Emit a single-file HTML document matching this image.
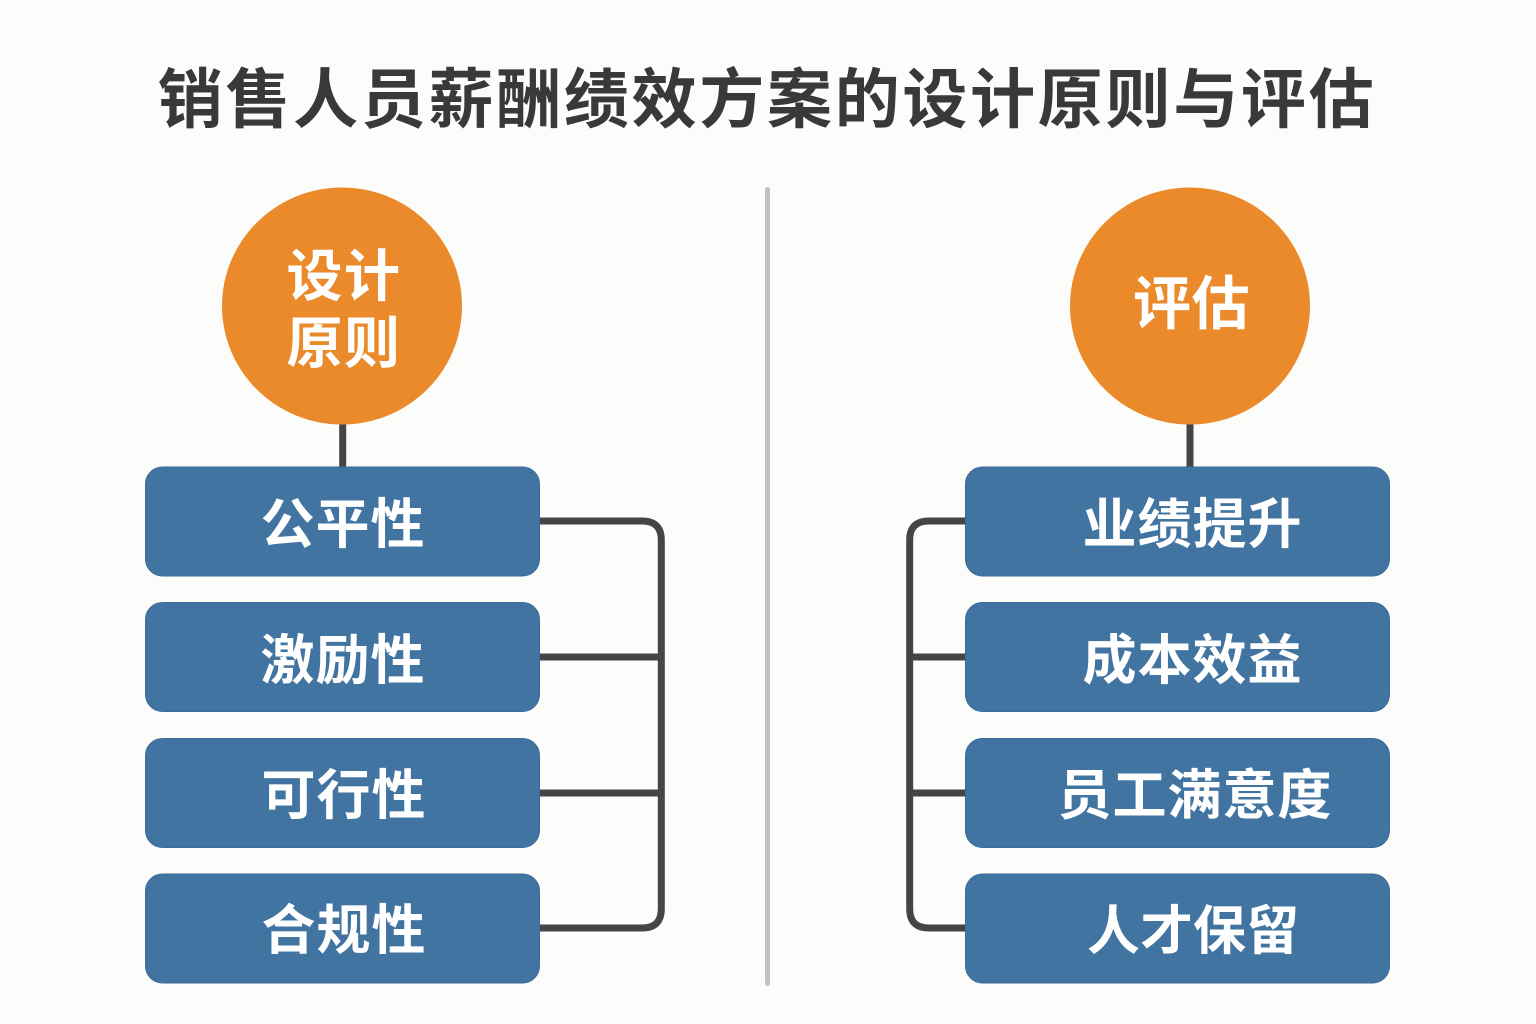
<!DOCTYPE html>
<html lang="zh">
<head>
<meta charset="utf-8">
<style>
html,body{margin:0;padding:0;background:#fcfcfa;}
svg{display:block;}
text{font-family:"Liberation Sans","Noto Sans CJK SC",sans-serif;font-weight:700;text-anchor:middle;}
.b{fill:#4274a1;stroke:#3b6c9b;stroke-width:1;}
.t{fill:#fff;font-size:54px;letter-spacing:1px;}
.l{fill:none;stroke:#434547;stroke-width:7;}
</style>
</head>
<body>
<svg width="1536" height="1024" viewBox="0 0 1536 1024" xmlns="http://www.w3.org/2000/svg">
<rect width="1536" height="1024" fill="#fcfcfa"/>
<text x="767" y="122" font-size="65" letter-spacing="2.7" fill="#37393b">销售人员薪酬绩效方案的设计原则与评估</text>
<rect x="765" y="187" width="5" height="799" rx="2.5" fill="#c0c2c1"/>

<path class="l" d="M342.7 420V470"/>
<path class="l" d="M1190 420V470"/>
<path class="l" d="M536 521H642Q661.3 521 661.3 540V909Q661.3 928 642 928H536"/>
<path class="l" d="M536 657H661M536 793H661"/>
<path class="l" d="M968 521H929Q909.7 521 909.7 540V909Q909.7 928 929 928H968"/>
<path class="l" d="M910 657H968M910 793H968"/>

<ellipse cx="342" cy="306" rx="120" ry="118.5" fill="#ea8a2b"/>
<ellipse cx="1190" cy="306" rx="120" ry="118.5" fill="#ea8a2b"/>
<text x="344" y="296" font-size="56" fill="#fff" letter-spacing="1.5">设计</text>
<text x="344" y="363" font-size="56" fill="#fff" letter-spacing="1.5">原则</text>
<text x="1191.5" y="324" font-size="58" fill="#fff" letter-spacing="0.5">评估</text>

<rect class="b" x="145.5" y="467" width="394" height="109" rx="17"/>
<rect class="b" x="145.5" y="602.5" width="394" height="109" rx="17"/>
<rect class="b" x="145.5" y="738.5" width="394" height="109" rx="17"/>
<rect class="b" x="145.5" y="874" width="394" height="109" rx="17"/>
<rect class="b" x="965.5" y="467" width="424" height="109" rx="17"/>
<rect class="b" x="965.5" y="602.5" width="424" height="109" rx="17"/>
<rect class="b" x="965.5" y="738.5" width="424" height="109" rx="17"/>
<rect class="b" x="965.5" y="874" width="424" height="109" rx="17"/>

<text class="t" x="343" y="543">公平性</text>
<text class="t" x="343" y="679">激励性</text>
<text class="t" x="344" y="814">可行性</text>
<text class="t" x="344" y="949">合规性</text>
<text class="t" x="1192.5" y="543">业绩提升</text>
<text class="t" x="1192.5" y="679">成本效益</text>
<text class="t" x="1195" y="814">员工满意度</text>
<text class="t" x="1193" y="949" letter-spacing="0" style="font-size:53px;letter-spacing:0">人才保留</text>
</svg>
</body>
</html>
